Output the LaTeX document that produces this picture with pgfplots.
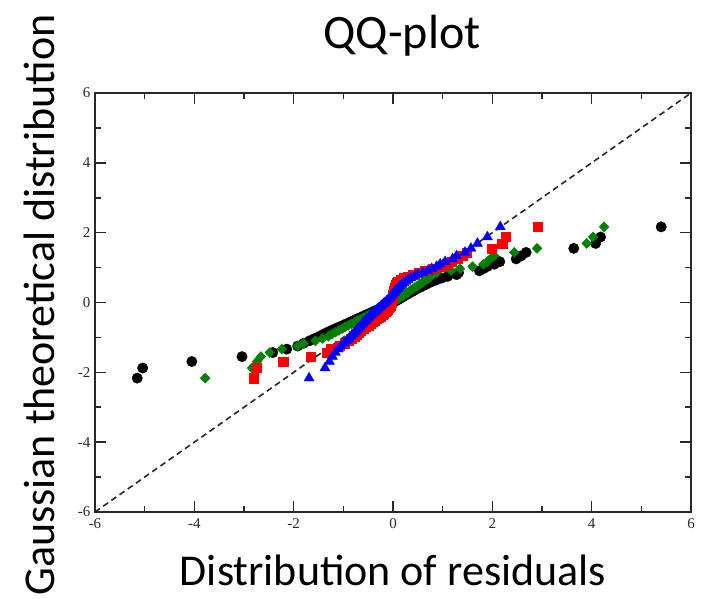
\documentclass[border=0pt]{standalone}
\usepackage{fontspec}
\setmainfont{Carlito}
\newfontfamily\tickfont{Liberation Serif}
\usepackage{pgfplots}
\usepackage{pgfplotstable}
\pgfplotsset{compat=1.18}

\definecolor{qqgreen}{RGB}{0,128,0}
\definecolor{qqred}{RGB}{255,0,0}
\definecolor{qqblue}{RGB}{0,0,255}
\definecolor{frame}{RGB}{40,40,40}

\newcommand\ticksize{\fontsize{15bp}{15bp}\selectfont}

% residual quantiles (x) against the Gaussian quantiles (y), four fits
\pgfplotstableread{
x y
-5.15 -2.166
-5.04 -1.876
-4.05 -1.691
-3.04 -1.550
-2.42 -1.434
-2.14 -1.335
-1.92 -1.248
-1.80 -1.169
-1.68 -1.097
-1.58 -1.030
-1.48 -0.967
-1.40 -0.908
-1.32 -0.852
-1.24 -0.799
-1.16 -0.748
-1.08 -0.699
-1.00 -0.651
-0.93 -0.605
-0.86 -0.559
-0.79 -0.515
-0.73 -0.473
-0.66 -0.431
-0.60 -0.390
-0.53 -0.349
-0.47 -0.309
-0.41 -0.270
-0.35 -0.230
-0.29 -0.191
-0.23 -0.153
-0.17 -0.114
-0.11 -0.076
-0.06 -0.038
0.00 0.000
0.05 0.038
0.10 0.076
0.14 0.114
0.19 0.153
0.23 0.191
0.28 0.230
0.33 0.270
0.38 0.309
0.43 0.349
0.48 0.390
0.54 0.431
0.60 0.473
0.66 0.515
0.72 0.559
0.80 0.605
0.88 0.651
0.98 0.699
1.10 0.748
1.28 0.799
1.32 0.852
1.74 0.908
1.82 0.967
1.90 1.030
2.04 1.097
2.15 1.169
2.48 1.248
2.58 1.335
2.68 1.434
3.64 1.550
4.08 1.691
4.18 1.876
5.40 2.166
}\blackdata

\pgfplotstableread{
x y
-3.78 -2.166
-2.84 -1.876
-2.74 -1.691
-2.66 -1.550
-2.48 -1.434
-2.24 -1.335
-1.92 -1.248
-1.80 -1.169
-1.56 -1.097
-1.42 -1.030
-1.30 -0.967
-1.23 -0.908
-1.16 -0.852
-1.09 -0.799
-1.02 -0.748
-0.96 -0.699
-0.90 -0.651
-0.83 -0.605
-0.77 -0.559
-0.71 -0.515
-0.65 -0.473
-0.59 -0.431
-0.53 -0.390
-0.48 -0.349
-0.42 -0.309
-0.37 -0.270
-0.31 -0.230
-0.26 -0.191
-0.21 -0.153
-0.15 -0.114
-0.10 -0.076
-0.05 -0.038
0.00 0.000
0.04 0.038
0.08 0.076
0.12 0.114
0.16 0.153
0.20 0.191
0.24 0.230
0.28 0.270
0.32 0.309
0.36 0.349
0.40 0.390
0.44 0.431
0.49 0.473
0.53 0.515
0.58 0.559
0.62 0.605
0.67 0.651
0.72 0.699
0.76 0.748
0.80 0.799
0.88 0.852
1.17 0.908
1.35 0.967
1.60 1.030
1.82 1.097
1.90 1.169
1.96 1.248
2.04 1.335
2.44 1.434
2.90 1.550
3.90 1.691
4.03 1.876
4.25 2.166
}\greendata

\pgfplotstableread{
x y
-2.80 -2.166
-2.75 -1.876
-2.21 -1.691
-1.66 -1.550
-1.33 -1.434
-1.25 -1.335
-1.08 -1.248
-0.97 -1.169
-0.90 -1.097
-0.84 -1.030
-0.78 -0.967
-0.74 -0.908
-0.70 -0.852
-0.65 -0.799
-0.60 -0.748
-0.55 -0.699
-0.50 -0.651
-0.46 -0.605
-0.41 -0.559
-0.37 -0.515
-0.33 -0.473
-0.29 -0.431
-0.25 -0.390
-0.21 -0.349
-0.18 -0.309
-0.15 -0.270
-0.12 -0.230
-0.10 -0.191
-0.08 -0.153
-0.06 -0.114
-0.05 -0.076
-0.04 -0.038
-0.03 0.000
-0.02 0.038
-0.02 0.076
-0.01 0.114
-0.01 0.153
0.00 0.191
0.00 0.230
0.01 0.270
0.01 0.309
0.02 0.349
0.03 0.390
0.04 0.431
0.05 0.473
0.06 0.515
0.07 0.559
0.09 0.605
0.15 0.651
0.22 0.699
0.30 0.748
0.40 0.799
0.52 0.852
0.65 0.908
0.80 0.967
0.95 1.030
1.08 1.097
1.18 1.169
1.30 1.248
1.40 1.335
1.48 1.434
1.99 1.550
2.20 1.691
2.27 1.876
2.92 2.166
}\reddata

\pgfplotstableread{
x y
-1.69 -2.166
-1.37 -1.876
-1.28 -1.691
-1.22 -1.550
-1.16 -1.434
-1.10 -1.335
-1.04 -1.248
-0.98 -1.169
-0.93 -1.097
-0.88 -1.030
-0.84 -0.967
-0.80 -0.908
-0.76 -0.852
-0.73 -0.799
-0.70 -0.748
-0.67 -0.699
-0.64 -0.651
-0.61 -0.605
-0.58 -0.559
-0.55 -0.515
-0.52 -0.473
-0.49 -0.431
-0.46 -0.390
-0.43 -0.349
-0.40 -0.309
-0.37 -0.270
-0.34 -0.230
-0.31 -0.191
-0.28 -0.153
-0.25 -0.114
-0.22 -0.076
-0.19 -0.038
-0.16 0.000
-0.13 0.038
-0.10 0.076
-0.07 0.114
-0.05 0.153
-0.03 0.191
-0.01 0.230
0.01 0.270
0.03 0.309
0.06 0.349
0.09 0.390
0.12 0.431
0.15 0.473
0.18 0.515
0.22 0.559
0.26 0.605
0.30 0.651
0.36 0.699
0.44 0.748
0.50 0.799
0.60 0.852
0.70 0.908
0.78 0.967
0.88 1.030
0.95 1.097
1.05 1.169
1.20 1.248
1.28 1.335
1.45 1.434
1.57 1.550
1.70 1.691
1.90 1.876
2.16 2.166
}\bluedata

\begin{document}
\begin{tikzpicture}
\begin{axis}[
  at={(0,0)}, anchor=south west,
  scale only axis, width=596bp, height=419bp,
  xmin=-6, xmax=6, ymin=-6, ymax=6,
  xtick={-6,-4,...,6}, ytick={-6,-4,...,6},
  minor xtick={-5,-3,...,5}, minor ytick={-5,-3,...,5},
  tick align=inside,
  major tick length=11bp, minor tick length=6bp,
  every tick/.style={frame, line width=1.6bp},
  axis line style={frame, line width=1.8bp},
  xticklabel style={font=\tickfont\ticksize, text=frame, yshift=-3bp},
  yticklabel style={font=\tickfont\ticksize, text=frame, xshift=-1bp},
  /pgf/number format/assume math mode=true,
  clip=false,
]
\addplot[frame, line width=1.6bp, dash pattern=on 6bp off 4bp] coordinates {(-6,-6) (6,6)};
\addplot[only marks, mark=*, mark size=5.2bp, black] table[x=x,y=y]{\blackdata};
\addplot[only marks, mark=diamond*, mark size=5.0bp, qqgreen, mark options={xscale=1.3}] table[x=x,y=y]{\greendata};
\addplot[only marks, mark=square*, mark size=4.6bp, qqred] table[x=x,y=y]{\reddata};
\addplot[only marks, mark=triangle*, mark size=5.8bp, qqblue] table[x=x,y=y]{\bluedata};
\end{axis}
\node[anchor=base, font=\fontsize{48bp}{48bp}\selectfont] at (307bp,463bp) {QQ-plot};
\node[anchor=base, font=\fontsize{44bp}{44bp}\selectfont] at (298bp,-73bp) {Distribution of residuals};
\node[anchor=base, rotate=90, font=\fontsize{44bp}{44bp}\selectfont] at (-40bp,207bp) {Gaussian theoretical distribution};
\pgfresetboundingbox
\path[use as bounding box] (-95bp,-87bp) rectangle (607bp,512bp);
\end{tikzpicture}
\end{document}
